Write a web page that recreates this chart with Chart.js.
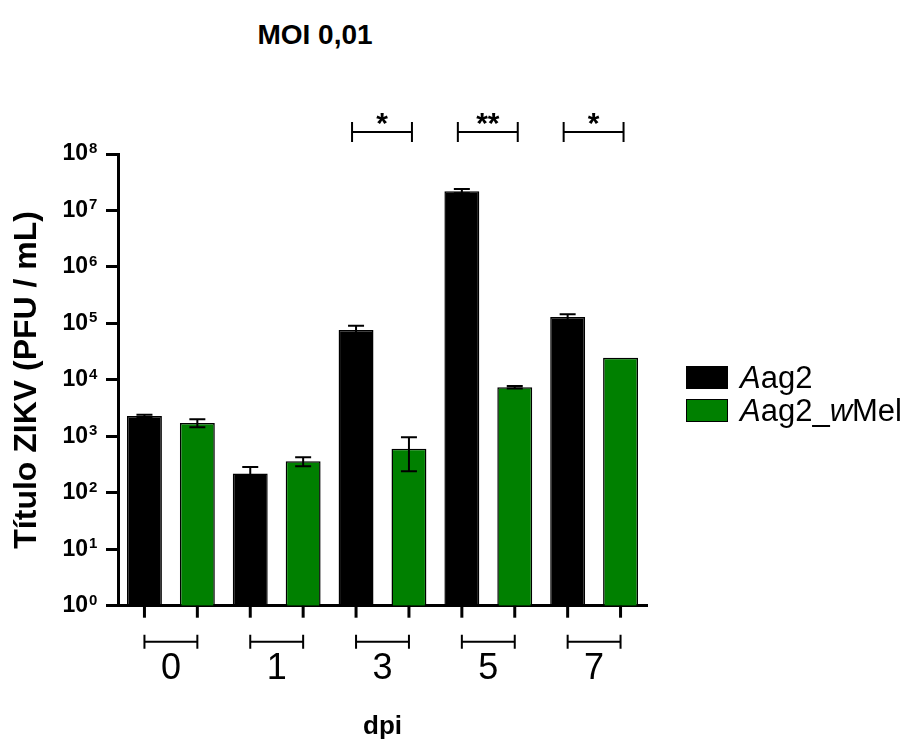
<!DOCTYPE html>
<html lang="pt">
<head>
  <meta charset="UTF-8">
  <title>MOI 0,01</title>
  <script src="https://cdn.jsdelivr.net/npm/chart.js@4.4.0/dist/chart.umd.min.js"></script>
  <style>
    html, body {
      margin: 0;
      padding: 0;
      background: #fff;
    }
    body {
      width: 916px;
      height: 754px;
      position: relative;
      overflow: hidden;
      font-family: "Liberation Sans", Arial, sans-serif;
      color: #000;
    }
    #chart {
      position: absolute;
      left: 0;
      top: 0;
    }
    .chart-title {
      position: absolute;
      left: 0;
      width: 630px;
      top: 18px;
      text-align: center;
      font-weight: bold;
      font-size: 28px;
      line-height: 34px;
    }
    .legend {
      position: absolute;
      left: 686px;
      top: 366px;
      font-size: 31px;
    }
    .legend-row {
      display: flex;
      align-items: center;
      height: 23px;
      margin-bottom: 10px;
      white-space: nowrap;
    }
    .swatch {
      width: 42px;
      height: 23px;
      box-sizing: border-box;
      border: 1.5px solid #000;
      margin-right: 12px;
    }
  </style>
</head>
<body>
  <div class="chart-title">MOI 0,01</div>
  <canvas id="chart" width="916" height="754"></canvas>
  <div class="legend" id="legend"></div>

  <script>
    // values (PFU / mL)
    const days = ['0', '1', '3', '5', '7'];
    const aag2Mean = [2300, 220, 76000, 22000000, 130000];
    const aag2Sd = [100, 65, 15000, 1900000, 15000];
    const wmelMean = [1720, 360, 600, 7400, 24700];
    const wmelSd = [280, 65, 360, 400, 0];
    const significance = ['', '', '*', '**', '*'];
    const yExponents = [0, 1, 2, 3, 4, 5, 6, 7, 8];

    const seriesNames = ['Aag2', 'Aag2_wMel'];
    const seriesLegend = ['<i>A</i>ag2', '<i>A</i>ag2_<i>w</i>Mel'];
    const seriesColors = ['#000000', '#008000'];

    const FONT = '"Liberation Sans", Arial, sans-serif';

    // error bars, ticks under bars, brackets, stars and tick exponents
    const extrasPlugin = {
      id: 'extras',
      afterDatasetsDraw(chart) {
        const ctx = chart.ctx;
        const y = chart.scales.y;
        const sets = [[aag2Mean, aag2Sd], [wmelMean, wmelSd]];
        ctx.save();
        ctx.strokeStyle = '#000';
        ctx.lineWidth = 2;
        sets.forEach((pair, di) => {
          const meta = chart.getDatasetMeta(di);
          meta.data.forEach((bar, i) => {
            const sd = pair[1][i];
            if (!sd) return;
            const top = y.getPixelForValue(pair[0][i] + sd);
            const bot = y.getPixelForValue(Math.max(pair[0][i] - sd, 1));
            ctx.beginPath();
            ctx.moveTo(bar.x, top);
            ctx.lineTo(bar.x, bot);
            ctx.moveTo(bar.x - 8, top);
            ctx.lineTo(bar.x + 8, top);
            ctx.moveTo(bar.x - 8, bot);
            ctx.lineTo(bar.x + 8, bot);
            ctx.stroke();
          });
        });
        ctx.restore();
      },
      afterDraw(chart) {
        const ctx = chart.ctx;
        const area = chart.chartArea;
        const yScale = chart.scales.y;
        const m0 = chart.getDatasetMeta(0);
        const m1 = chart.getDatasetMeta(1);
        ctx.save();
        ctx.strokeStyle = '#000';
        ctx.fillStyle = '#000';

        // exponents next to the "10" tick labels
        ctx.font = 'bold 15px ' + FONT;
        ctx.textAlign = 'left';
        ctx.textBaseline = 'alphabetic';
        yExponents.forEach(e => {
          const py = yScale.getPixelForValue(Math.pow(10, e));
          ctx.fillText(String(e), 89, py - 1);
        });

        // small ticks under each bar
        ctx.lineWidth = 3;
        [m0, m1].forEach(meta => {
          meta.data.forEach(bar => {
            ctx.beginPath();
            ctx.moveTo(bar.x, area.bottom);
            ctx.lineTo(bar.x, area.bottom + 12);
            ctx.stroke();
          });
        });

        // group brackets under the axis
        ctx.lineWidth = 2;
        const by = area.bottom + 36;
        days.forEach((d, i) => {
          const x1 = m0.data[i].x;
          const x2 = m1.data[i].x;
          ctx.beginPath();
          ctx.moveTo(x1, by);
          ctx.lineTo(x2, by);
          ctx.moveTo(x1, by - 7);
          ctx.lineTo(x1, by + 7);
          ctx.moveTo(x2, by - 7);
          ctx.lineTo(x2, by + 7);
          ctx.stroke();
        });

        // significance brackets above the plot
        const sy = area.top - 22;
        ctx.font = 'bold 30px ' + FONT;
        ctx.textAlign = 'center';
        significance.forEach((s, i) => {
          if (!s) return;
          const x1 = m0.data[i].x - 4;
          const x2 = m1.data[i].x + 3;
          ctx.beginPath();
          ctx.moveTo(x1, sy);
          ctx.lineTo(x2, sy);
          ctx.moveTo(x1, sy - 10);
          ctx.lineTo(x1, sy + 10);
          ctx.moveTo(x2, sy - 10);
          ctx.lineTo(x2, sy + 10);
          ctx.stroke();
          ctx.fillText(s, (x1 + x2) / 2, sy + 1);
        });
        ctx.restore();
      }
    };

    const ctx = document.getElementById('chart').getContext('2d');
    new Chart(ctx, {
      type: 'bar',
      data: {
        labels: days,
        datasets: [
          {
            label: seriesNames[0],
            data: aag2Mean,
            backgroundColor: seriesColors[0],
            borderColor: '#000',
            borderWidth: 1.5,
            barPercentage: 0.66,
            categoryPercentage: 1.0
          },
          {
            label: seriesNames[1],
            data: wmelMean,
            backgroundColor: seriesColors[1],
            borderColor: '#000',
            borderWidth: 1.5,
            barPercentage: 0.66,
            categoryPercentage: 1.0
          }
        ]
      },
      options: {
        responsive: false,
        animation: false,
        layout: {
          padding: { left: 0, top: 154, right: 269, bottom: 0 }
        },
        plugins: {
          legend: { display: false },
          tooltip: { enabled: false }
        },
        scales: {
          x: {
            grid: { display: false, drawTicks: false },
            border: { display: true, color: '#000', width: 3 },
            ticks: {
              color: '#000',
              padding: 42,
              font: { family: FONT, size: 36 }
            },
            title: {
              display: true,
              text: 'dpi',
              color: '#000',
              font: { family: FONT, size: 26, weight: 'bold', lineHeight: 1.2 },
              padding: { top: 0, bottom: 12 }
            },
            afterFit(scale) {
              scale.height = 148.3;
            }
          },
          y: {
            type: 'logarithmic',
            min: 1,
            max: 1e8,
            afterBuildTicks(scale) {
              scale.ticks = yExponents.map(e => ({ value: Math.pow(10, e) }));
            },
            grid: {
              drawOnChartArea: false,
              drawTicks: true,
              tickLength: 12,
              tickWidth: 3,
              tickColor: '#000'
            },
            border: { display: true, color: '#000', width: 3 },
            ticks: {
              color: '#000',
              padding: 18,
              font: { family: FONT, size: 23, weight: 'bold' },
              callback() {
                return '10';
              }
            },
            title: {
              display: true,
              text: 'Título ZIKV (PFU / mL)',
              color: '#000',
              font: { family: FONT, size: 32, weight: 'bold', lineHeight: 1.2 },
              padding: { top: 8, bottom: 0 }
            },
            afterFit(scale) {
              scale.width = 118;
            }
          }
        }
      },
      plugins: [extrasPlugin]
    });

    // legend with italic genus / strain letters
    const legend = document.getElementById('legend');
    seriesNames.forEach((name, i) => {
      const row = document.createElement('div');
      row.className = 'legend-row';
      row.innerHTML = '<span class="swatch" style="background:' + seriesColors[i] + '"></span><span>' + seriesLegend[i] + '</span>';
      legend.appendChild(row);
    });
  </script>
</body>
</html>
